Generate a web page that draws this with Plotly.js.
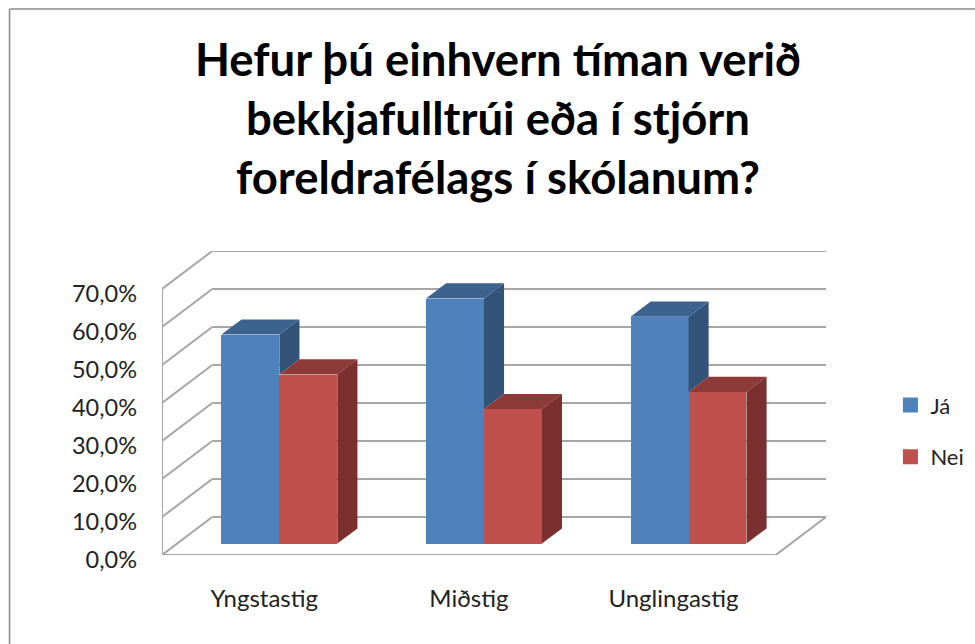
<!DOCTYPE html>
<html>
<head>
<meta charset="utf-8">
<script src="https://cdn.plot.ly/plotly-3.0.1.min.js"></script>
<style>html,body{margin:0;padding:0;background:#fff;overflow:hidden}</style>
</head>
<body>
<div id="chart" style="width:975px;height:644px"></div>
<script>
const categories = ["Yngstastig", "Miðstig", "Unglingastig"];
const jaValues = [55, 64.5, 59.7];
const neiValues = [44.5, 35.4, 39.9];
const seriesNames = ["Já", "Nei"];
const yTicks = [0, 10, 20, 30, 40, 50, 60, 70];
const yTickLabels = ["0,0%", "10,0%", "20,0%", "30,0%", "40,0%", "50,0%", "60,0%", "70,0%"];
const titleText = "Hefur þú einhvern tíman verið<br>bekkjafulltrúi eða í stjórn<br>foreldrafélags í skólanum?";

// Oblique projection: one unit of depth moves a point right and up on the axes.
const depthX = 0.2457, depthY = 10;
const barFront = 0.3, barBack = 0.7, barW = 0.2833;
const xLeft = -0.5, xRight = 2.5;
const project = (x, v, d) => [x + d * depthX, v + d * depthY];

function poly(pts) {
  return pts.map(p => project(p[0], p[1], p[2]));
}
function faces(list) {
  const xs = [], ys = [];
  list.forEach(pts => {
    poly(pts).forEach(p => { xs.push(p[0]); ys.push(p[1]); });
    xs.push(null); ys.push(null);
  });
  return { xs, ys };
}
const blueTop = [], blueSide = [], redTop = [], redSide = [];
categories.forEach((c, i) => {
  const a = i - barW, m = i, b = i + barW;
  const J = jaValues[i], N = neiValues[i];
  blueTop.push([[a, J, barFront], [m, J, barFront], [m, J, barBack], [a, J, barBack]]);
  blueSide.push([[m, J, barFront], [m, J, barBack], [m, N, barBack], [m, N, barFront]]);
  redTop.push([[m, N, barFront], [b, N, barFront], [b, N, barBack], [m, N, barBack]]);
  redSide.push([[b, N, barFront], [b, N, barBack], [b, 0, barBack], [b, 0, barFront]]);
});
function faceTrace(list, color) {
  const f = faces(list);
  return { type: "scatter", x: f.xs, y: f.ys, mode: "lines", fill: "toself", fillcolor: color,
           line: { width: 0, color: color }, showlegend: false, hoverinfo: "skip" };
}
function frontTrace(name, values, side, color) {
  return { type: "bar", name: name, showlegend: false,
           x: categories.map((c, i) => i + side * barW / 2 + barFront * depthX),
           y: values, base: values.map(() => barFront * depthY), width: barW,
           marker: { color: color, line: { width: 0 } }, hovertemplate: name + ": %{y:.1f}%<extra></extra>" };
}
// Legend keys: same colours, with a stroke so the swatch is as large as the reference's
function legendKey(name, color, group) {
  return { type: "bar", name: name, legendgroup: group, x: [null], y: [null], hoverinfo: "skip",
           marker: { color: color, line: { width: 3, color: color } } };
}

// Walls and floor
const gridColor = "#a6a6a6";
const shapes = [];
function seg(x0, y0, x1, y1, color, width, xref, yref) {
  shapes.push({ type: "line", layer: "below", xref: xref || "x", yref: yref || "y",
                x0, y0, x1, y1, line: { color: color || gridColor, width: width || 2 } });
}
yTicks.forEach(v => {
  const p0 = project(xLeft, v, 0), p1 = project(xLeft, v, 1), p2 = project(xRight, v, 1);
  seg(p0[0], p0[1], p1[0], p1[1]);
  seg(p1[0], p1[1], p2[0], p2[1]);
});
seg(xLeft, 0, xLeft, yTicks[yTicks.length - 1]);
seg(xLeft, 0, xRight, 0);
const fr = project(xRight, 0, 1);
seg(xRight, 0, fr[0], fr[1]);
// Outer chart frame
seg(-0.2296, -0.3, -0.2296, 1.796, "#8a8a8a", 1.6, "paper", "paper");
seg(-0.2296, 1.796, 1.3, 1.796, "#8a8a8a", 1.6, "paper", "paper");

const data = [
  frontTrace(seriesNames[0], jaValues, -1, "#4f81bd"),
  frontTrace(seriesNames[1], neiValues, 1, "#c0504d"),
  faceTrace(blueSide, "#335379"),
  faceTrace(blueTop, "#3c6290"),
  faceTrace(redTop, "#8e3a38"),
  faceTrace(redSide, "#7a302e"),
  legendKey(seriesNames[0], "#4f81bd", "a"),
  legendKey(seriesNames[1], "#c0504d", "b")
];

const layout = {
  width: 975, height: 644,
  margin: { l: 161.5, r: 149.3, t: 250.7, b: 89, pad: 0, autoexpand: false },
  paper_bgcolor: "#fff", plot_bgcolor: "rgba(0,0,0,0)",
  font: { family: "Lato, sans-serif", size: 20, color: "#222" },
  showlegend: true,
  title: { text: titleText, font: { family: "Lato, sans-serif", size: 45.5, weight: 700, color: "#000" },
           x: 0.506, xanchor: "center", xref: "paper", y: 0.882, yanchor: "top", yref: "container" },
  xaxis: { type: "linear", range: [xLeft, xRight + depthX], tickmode: "array", tickvals: categories.map((c, i) => i), ticktext: categories,
           showgrid: false, zeroline: false, showline: false, ticks: "", ticklabelstandoff: 27,
           tickfont: { size: 24, color: "#222" }, fixedrange: true },
  yaxis: { range: [0, 80], tickmode: "array", tickvals: yTicks, ticktext: yTickLabels,
           showgrid: false, zeroline: false, showline: false, ticks: "", ticklabelstandoff: 24, ticklabelshift: 5,
           tickfont: { size: 23.5, color: "#222" }, fixedrange: true },
  legend: { x: 1.097, xanchor: "left", y: 0.407, yanchor: "middle", traceorder: "grouped", tracegroupgap: 20,
            itemwidth: 30, font: { size: 22, color: "#222" }, bgcolor: "rgba(0,0,0,0)" },
  shapes: shapes,
  bargap: 0
};
Plotly.newPlot("chart", data, layout, { displayModeBar: false, responsive: false });
</script>
</body>
</html>
